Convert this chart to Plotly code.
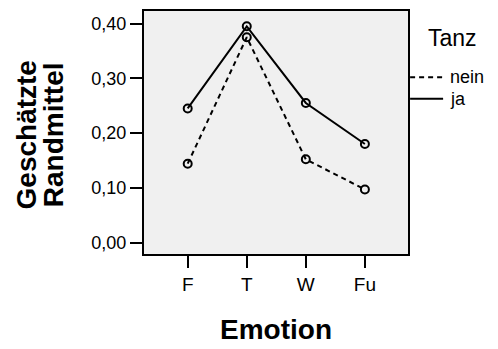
import plotly.graph_objects as go

categories = ["F", "T", "W", "Fu"]
nein_values = [0.144, 0.375, 0.152, 0.097]
ja_values = [0.245, 0.395, 0.255, 0.180]
y_ticks = [0.0, 0.1, 0.2, 0.3, 0.4]
legend_title = "Tanz"
series_names = ["nein", "ja"]

FONT = "Liberation Sans, Arial, sans-serif"

fig = go.Figure()
fig.add_trace(go.Scatter(
    x=categories, y=nein_values, mode="lines+markers", name=series_names[0],
    line=dict(color="black", width=2, dash="5px,4px"),
    marker=dict(symbol="circle-open", size=8, color="black", line=dict(width=2)),
    showlegend=False,
))
fig.add_trace(go.Scatter(
    x=categories, y=ja_values, mode="lines+markers", name=series_names[1],
    line=dict(color="black", width=2),
    marker=dict(symbol="circle-open", size=8, color="black", line=dict(width=2)),
    showlegend=False,
))

# manual legend
fig.add_annotation(xref="paper", yref="paper", x=1.07, y=0.89, text=legend_title,
                   showarrow=False, xanchor="left", yanchor="middle",
                   font=dict(family=FONT, size=23, color="black"))
for name, yy, dash in [(series_names[0], 0.727, "5px,4px"), (series_names[1], 0.639, "solid")]:
    fig.add_shape(type="line", xref="paper", yref="paper", x0=1.008, x1=1.133, y0=yy, y1=yy,
                  line=dict(color="black", width=2, dash=dash))
    fig.add_annotation(xref="paper", yref="paper", x=1.15, y=yy, text=name,
                       showarrow=False, xanchor="left", yanchor="middle",
                       font=dict(family=FONT, size=18, color="black"))

# y-axis title as two lines
fig.add_annotation(xref="paper", yref="paper", x=-0.445, y=0.49, text="<b>Geschätzte</b>",
                   textangle=-90, showarrow=False, xanchor="center", yanchor="middle",
                   font=dict(family=FONT, size=28, color="black"))
fig.add_annotation(xref="paper", yref="paper", x=-0.34, y=0.49, text="<b>Randmittel</b>",
                   textangle=-90, showarrow=False, xanchor="center", yanchor="middle",
                   font=dict(family=FONT, size=28, color="black"))

fig.update_layout(
    width=498, height=349,
    margin=dict(l=144, r=90, t=9, b=91),
    paper_bgcolor="white", plot_bgcolor="#f0f0f0",
    separators=",.",
    font=dict(family=FONT, size=19, color="black"),
    xaxis=dict(
        type="category", range=[-0.74, 3.73],
        showline=True, mirror=True, linecolor="black", linewidth=2,
        ticks="outside", ticklen=12, tickwidth=2, tickcolor="black",
        showgrid=False, zeroline=False,
        tickfont=dict(family=FONT, size=19),
        title=dict(text="<b>Emotion</b>", font=dict(family=FONT, size=28), standoff=26),
    ),
    yaxis=dict(
        range=[-0.021, 0.423],
        tickvals=y_ticks, tickformat=".2f",
        showline=True, mirror=True, linecolor="black", linewidth=2,
        ticks="outside", ticklen=12, tickwidth=2, tickcolor="black",
        showgrid=False, zeroline=False,
        tickfont=dict(family=FONT, size=18),
    ),
)

fig.write_html("out.html", config={"displayModeBar": False},
               post_script="document.body.style.margin='0';")
